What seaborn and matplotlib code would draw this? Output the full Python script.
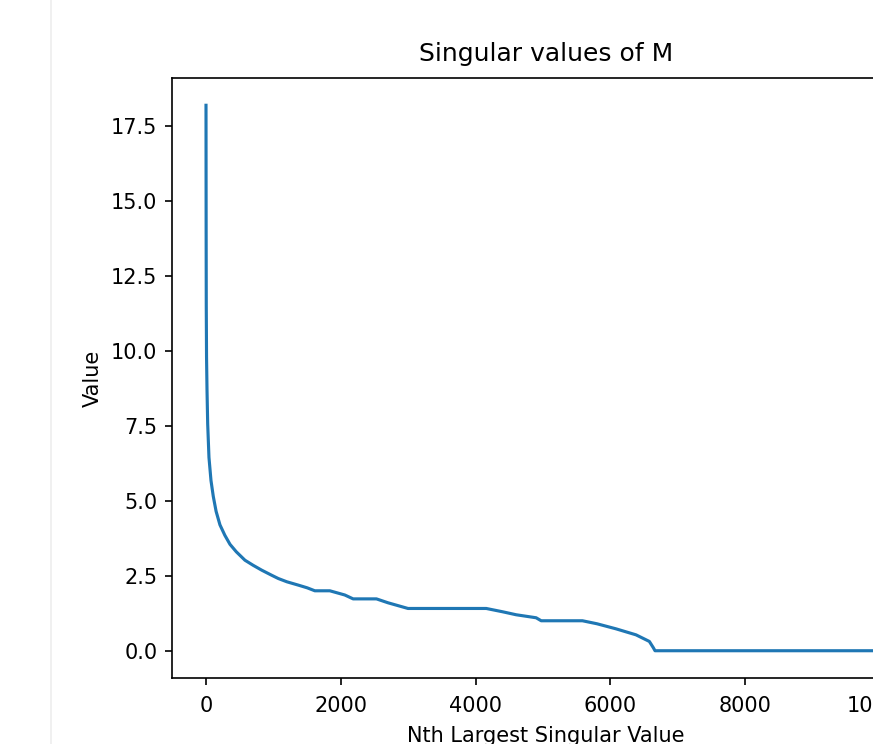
import matplotlib
matplotlib.use("Agg")
import matplotlib.pyplot as plt
from matplotlib.lines import Line2D
import seaborn as sns
import pandas as pd

# Knots (index of singular value, value)
rank = [0, 1, 2, 4, 8, 15, 25, 44, 74, 108, 150, 207, 280, 356, 450, 578,
        700, 825, 973, 1072, 1200, 1368, 1500, 1615, 1837, 2059, 2183, 2529,
        2700, 2997, 4158, 4400, 4602, 4898, 4973, 5585, 5800, 6084, 6380,
        6578, 6637, 6662, 10089]
value = [18.2, 16.0, 14.0, 11.5, 9.8, 8.7, 7.57, 6.45, 5.68, 5.15, 4.65, 4.2,
         3.85, 3.55, 3.3, 3.02, 2.85, 2.69, 2.52, 2.41, 2.3, 2.19, 2.1, 2.0,
         2.0, 1.86, 1.73, 1.73, 1.6, 1.41, 1.41, 1.3, 1.2, 1.1, 1.0, 1.0,
         0.9, 0.73, 0.53, 0.31, 0.1, 0.0, 0.0]

title = "Singular values of M"
xlabel = "Nth Largest Singular Value"
ylabel = "Value"

df = pd.DataFrame({"rank": rank, "value": value})

fig = plt.figure(figsize=(873 / 150, 744 / 150), dpi=150)
fig.patch.set_facecolor("white")
ax = fig.add_axes([172 / 873, 66 / 744, (920 - 172) / 873, 600 / 744])

sns.lineplot(data=df, x="rank", y="value", ax=ax, color="#1f77b4", linewidth=1.5)

ax.set_title(title, fontsize=12, pad=8)
ax.set_xlabel(xlabel, fontsize=10, labelpad=5)
ax.set_ylabel(ylabel, fontsize=10)
ax.set_xticks([0, 2000, 4000, 6000, 8000, 10000])
ax.set_yticks([0.0, 2.5, 5.0, 7.5, 10.0, 12.5, 15.0, 17.5])
ax.tick_params(axis="x", pad=5)

# faint notebook cell border on the left
fig.add_artist(Line2D([50.5 / 873, 50.5 / 873], [0, 1], transform=fig.transFigure,
                      color="#eeeeee", linewidth=0.8))

fig.savefig("out.png", dpi=150)
